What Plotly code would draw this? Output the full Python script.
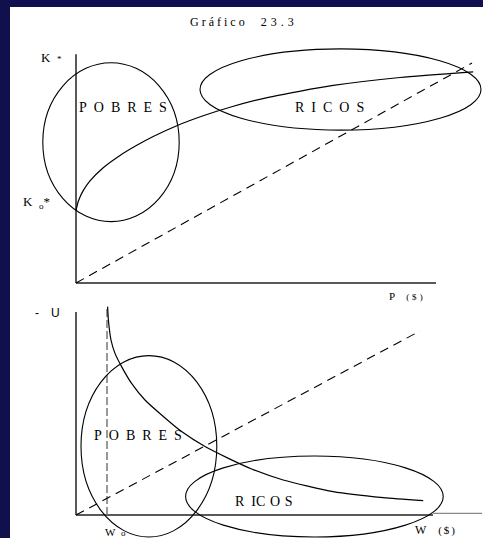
import plotly.graph_objects as go

# ---------------- data ----------------
# top panel: K* as a function of P ($)
top_curve_p = [0, 0.6, 1.8, 3.5, 6.8, 11, 15.2, 19.3, 25.2, 31.8, 38.5, 47.8, 64.3, 81, 99.3]
top_curve_k = [33, 37.3, 42, 46.4, 52.4, 58, 62.6, 66.6, 71.5, 76, 79.9, 84.3, 89.8, 93.4, 96]
top_dash_p = [0, 99]
top_dash_k = [0, 100]
top_axis_p_end = 90
top_axis_k_end = 104
top_pobres = [-8.3, 25.8, 27.9, 100.1]   # x0, x1, y0, y1
top_ricos = [31, 101.25, 69.5, 106.4]

# bottom panel: -U as a function of W ($)
bot_curve_w = [7.9, 8.1, 8.75, 9.75, 11.4, 13.9, 17.25, 21.4, 26.4, 32.25, 38.1, 43.9, 51.8, 64.3, 76.8, 86.8]
bot_curve_u = [104.2, 97.5, 87.5, 80.8, 74.2, 65.8, 57.5, 50, 41.7, 34.2, 28.3, 23, 17.5, 11.7, 8.7, 7.2]
bot_dash_w = [0, 86]
bot_dash_u = [0, 92]
bot_w0 = 7.75
bot_w0_top = 104.5
bot_axis_w_end = 89.25
bot_axis_w_ext = 101.5
bot_axis_u_end = 101.5
bot_pobres = [1.25, 35.2, -11, 79.7]
bot_ricos = [27.4, 91.8, -11, 29.5]

# ---------------- figure geometry ----------------
W, H = 483, 538
split_px = 305
ox = 76          # pixel of x origin
xs = 4.0         # px per x unit
top_oy, top_ys = 283, 2.2
bot_oy, bot_ys = 515, 2.0

x_range = [(0 - ox) / xs, (W - ox) / xs]
top_y_range = [(top_oy - split_px) / top_ys, top_oy / top_ys]
bot_y_range = [(bot_oy - H) / bot_ys, (bot_oy - split_px) / bot_ys]
split_paper = 1 - split_px / H

NAVY = "#10104f"
SERIF = "Liberation Serif, Times New Roman, serif"
SANS = "Liberation Sans, Arial, sans-serif"

fig = go.Figure()

def line(x, y, xa, ya, color="black", width=1.2, dash=None, shape="linear"):
    fig.add_trace(go.Scatter(x=x, y=y, xaxis=xa, yaxis=ya, mode="lines",
                             line=dict(color=color, width=width, dash=dash, shape=shape,
                                       smoothing=0.6 if shape == "spline" else None),
                             hoverinfo="skip"))

# top panel
line([0, top_axis_p_end], [0, 0], "x", "y", color="#222", width=1.5)
line([0, 0], [0, top_axis_k_end], "x", "y", color="#222", width=1.5)
line(top_dash_p, top_dash_k, "x", "y", width=1.1, dash="9px,6px")
line(top_curve_p, top_curve_k, "x", "y", width=1.2, shape="spline")

# bottom panel
line([0, bot_axis_w_end], [0, 0], "x2", "y2", color="#222", width=1.5)
line([bot_axis_w_end, bot_axis_w_ext], [0.8, 0.8], "x2", "y2", color="#888", width=1.3)
line([0, 0], [0, bot_axis_u_end], "x2", "y2", color="#222", width=1.5)
line([bot_w0, bot_w0], [0, bot_w0_top], "x2", "y2", color="#777", width=1.5, dash="8px,3px")
line(bot_dash_w, bot_dash_u, "x2", "y2", width=1.1, dash="9px,6px")
line(bot_curve_w, bot_curve_u, "x2", "y2", width=1.2, shape="spline")

shapes = [dict(type="rect", xref="paper", yref="paper", x0=10 / W, x1=1, y0=0, y1=1 - 7 / H,
               fillcolor="white", line=dict(width=0), layer="below")]
for (e, xr, yr) in [(top_pobres, "x", "y"), (top_ricos, "x", "y"),
                    (bot_pobres, "x2", "y2"), (bot_ricos, "x2", "y2")]:
    shapes.append(dict(type="circle", xref=xr, yref=yr, x0=e[0], x1=e[1], y0=e[2], y1=e[3],
                       line=dict(color="black", width=1.1)))

def ann(text, x, y, xr, yr, size=13, family=SERIF, xanchor="center"):
    return dict(text=text, x=x, y=y, xref=xr, yref=yr, showarrow=False,
                xanchor=xanchor, yanchor="middle", font=dict(family=family, size=size, color="black"))

sp = "\u2002"
annotations = [
    ann("G r á f i c o\u2003\u20042\u20043\u2004.\u20043", 0.5, 1 - 22 / H, "paper", "paper", size=12),
    ann("K" + sp + "<span style='font-size:9px'>*</span>", -6.25, 102.5, "x", "y", size=13),
    ann("K" + sp + "<sub>o</sub>*", -10, 36.5, "x", "y", size=13),
    ann(sp.join("POBRES"), 11.75, 80, "x", "y", size=14),
    ann(sp.join("RICOS"), 63.4, 80, "x", "y", size=14),
    ann("P" + "\u2003" + "<span style='font-size:9px'>(\u2004$\u2004)</span>", 82.4, -5.9, "x", "y", size=11),
    ann("-\u2003U", -7.25, 101, "x2", "y2", size=12, family=SANS),
    ann(sp.join("POBRES"), 15.4, 40, "x2", "y2", size=14),
    ann("R" + sp + "IC\u2004O\u2004S", 46.9, 7, "x2", "y2", size=14),
    ann("W" + sp + "<span style='font-size:9px'>o</span>", 9.75, -8.5, "x2", "y2", size=11),
    ann("W" + "\u2003" + "<span style='font-size:11px'>(\u2006$\u2006)</span>", 89.75, -7.5, "x2", "y2", size=12),
]

ax_common = dict(visible=False, fixedrange=True)
fig.update_layout(
    width=W, height=H, margin=dict(l=0, r=0, t=0, b=0),
    paper_bgcolor=NAVY, plot_bgcolor="rgba(0,0,0,0)", showlegend=False,
    xaxis=dict(domain=[0, 1], range=x_range, anchor="y", **ax_common),
    yaxis=dict(domain=[split_paper, 1], range=top_y_range, anchor="x", **ax_common),
    xaxis2=dict(domain=[0, 1], range=x_range, anchor="y2", **ax_common),
    yaxis2=dict(domain=[0, split_paper], range=bot_y_range, anchor="x2", **ax_common),
    shapes=shapes, annotations=annotations,
)

fig.write_html("out.html", config={"displayModeBar": False},
               post_script="document.body.style.margin='0';document.body.style.overflow='hidden';")
